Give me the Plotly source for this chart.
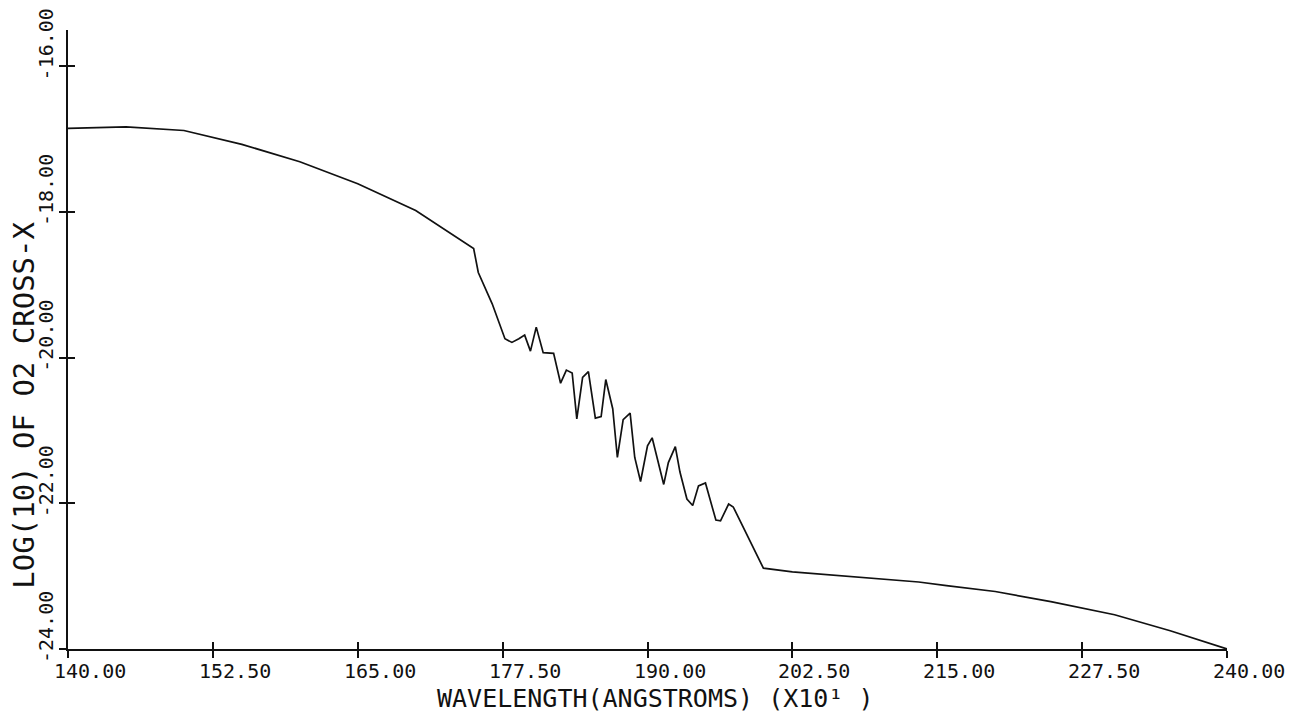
import plotly.graph_objects as go

# Log10 of the O2 absorption cross-section vs wavelength (units of 10 Angstroms)
wavelength = [140.0, 145.0, 150.0, 155.0, 160.0, 165.0, 170.0, 175.0, 175.4, 176.6,
              177.7, 178.3, 178.9, 179.4, 179.9, 180.4, 181.0, 181.9, 182.5, 183.0,
              183.5, 183.9, 184.4, 184.9, 185.5, 186.0, 186.4, 187.0, 187.4, 187.9,
              188.5, 188.9, 189.4, 190.0, 190.4, 191.4, 191.8, 192.4, 192.8, 193.4,
              193.9, 194.4, 195.0, 195.9, 196.3, 197.0, 197.4, 200.0, 202.5, 205.8,
              209.4, 213.4, 215.8, 220.0, 224.8, 230.3, 235.1, 240.0]
log_xsec = [-16.85, -16.83, -16.88, -17.07, -17.31, -17.61, -17.98, -18.50, -18.83, -19.26,
            -19.74, -19.79, -19.74, -19.69, -19.91, -19.58, -19.93, -19.94, -20.35, -20.17,
            -20.21, -20.84, -20.27, -20.19, -20.83, -20.81, -20.30, -20.70, -21.37, -20.85,
            -20.76, -21.37, -21.70, -21.21, -21.10, -21.74, -21.44, -21.22, -21.57, -21.94,
            -22.03, -21.76, -21.72, -22.23, -22.24, -22.01, -22.05, -22.89, -22.94, -22.98,
            -23.03, -23.08, -23.13, -23.21, -23.35, -23.53, -23.75, -24.00]

x_ticks = [140.0, 152.5, 165.0, 177.5, 190.0, 202.5, 215.0, 227.5, 240.0]
y_ticks = [-16.0, -18.0, -20.0, -22.0, -24.0]
x_tick_text = ["140.00", "152.50", "165.00", "177.50", "190.00",
               "202.50", "215.00", "227.50", "240.00"]
y_tick_text = ["-16.00", "-18.00", "-20.00", "-22.00", "-24.00"]

x_title = "WAVELENGTH(ANGSTROMS) (X10\u00b9 )"
y_title = "LOG(10) OF O2 CROSS-X"

FONT = "DejaVu Sans Mono, Liberation Mono, monospace"
INK = "#111111"

fig = go.Figure()
fig.add_trace(go.Scatter(x=wavelength, y=log_xsec, mode="lines",
                         line=dict(color=INK, width=1.7), showlegend=False,
                         hoverinfo="skip"))
# invisible trace bound to the overlay axes so their inward ticks render
fig.add_trace(go.Scatter(x=[140, 240], y=[-24, -24], xaxis="x2", yaxis="y2",
                         mode="lines", line=dict(width=0), showlegend=False,
                         hoverinfo="skip"))

X_RANGE = [140, 240]
Y_RANGE = [-24, -15.5]

axis_common = dict(showgrid=False, zeroline=False, showline=True,
                   linecolor=INK, linewidth=1.5, tickcolor=INK,
                   tickwidth=1.5, ticklen=7, showticklabels=False)

fig.update_layout(
    width=1299, height=714,
    margin=dict(l=68, r=72, t=30, b=65),
    paper_bgcolor="white", plot_bgcolor="white",
    xaxis=dict(range=X_RANGE, tickvals=x_ticks, ticks="outside",
               anchor="y", **axis_common),
    yaxis=dict(range=Y_RANGE, tickvals=y_ticks, ticks="outside",
               anchor="x", **axis_common),
    xaxis2=dict(range=X_RANGE, tickvals=x_ticks, ticks="inside",
                overlaying="x", side="bottom", anchor="y2", **axis_common),
    yaxis2=dict(range=Y_RANGE, tickvals=y_ticks, ticks="inside",
                overlaying="y", side="left", anchor="x2", **axis_common),
)

annotations = []
for v, t in zip(x_ticks, x_tick_text):
    annotations.append(dict(x=v, y=Y_RANGE[0], xref="x", yref="y", text=t,
                            showarrow=False, xanchor="center", yanchor="middle",
                            xshift=22, yshift=-22, borderpad=0,
                            font=dict(family=FONT, size=20, color=INK)))
for v, t in zip(y_ticks, y_tick_text):
    annotations.append(dict(x=X_RANGE[0], y=v, xref="x", yref="y", text=t,
                            showarrow=False, textangle=-90,
                            xanchor="center", yanchor="middle",
                            xshift=-22, yshift=22, borderpad=0,
                            font=dict(family=FONT, size=20, color=INK)))
annotations.append(dict(x=0.5065, y=-0.0795, xref="paper", yref="paper",
                        text=x_title, showarrow=False, borderpad=0,
                        xanchor="center", yanchor="middle",
                        font=dict(family=FONT, size=25, color=INK)))
annotations.append(dict(x=-0.0375, y=0.394, xref="paper", yref="paper",
                        text=y_title, showarrow=False, textangle=-90,
                        xanchor="center", yanchor="middle", borderpad=0,
                        font=dict(family=FONT, size=29, color=INK)))
fig.update_layout(annotations=annotations)

fig.write_html("out.html")
